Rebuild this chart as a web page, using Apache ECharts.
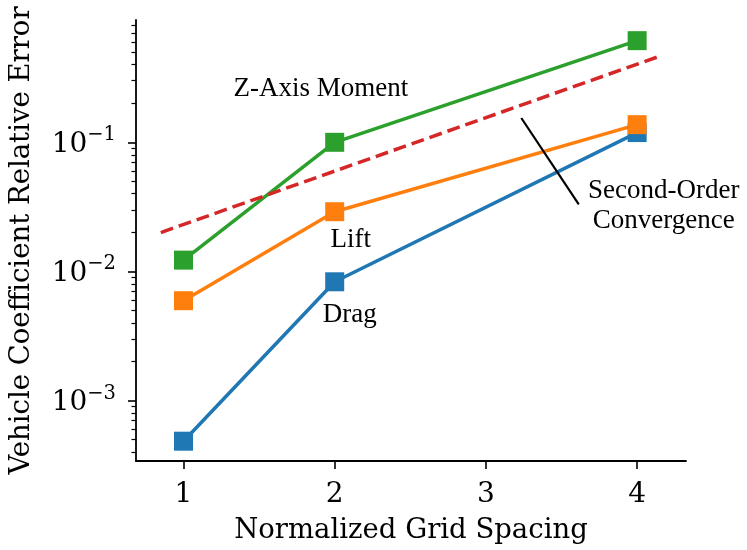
<!DOCTYPE html>
<html>
<head>
<meta charset="utf-8">
<script src="https://cdn.jsdelivr.net/npm/echarts@6/dist/echarts.min.js"></script>
<style>
  html, body { margin: 0; padding: 0; background: #ffffff; }
  #chart { width: 747px; height: 550px; }
</style>
</head>
<body>
<div id="chart"></div>
<script>
// ---- data ----
const gridSpacing = [1, 2, 4];
const drag = [4.84e-4, 8.31e-3, 0.119];
const lift = [5.93e-3, 0.029, 0.137];
const zMoment = [0.01223, 0.1, 0.613];
const refX = [0.85, 4.15];
const refY = [0.02, 0.465];
const pointerX = [3.234, 3.614];
const pointerY = [0.1543, 0.0331];
const xTicks = [1, 2, 3, 4];
const yTicks = [0.001, 0.01, 0.1];
const yMinorTicks = [4e-4, 5e-4, 6e-4, 7e-4, 8e-4, 9e-4,
  2e-3, 3e-3, 4e-3, 5e-3, 6e-3, 7e-3, 8e-3, 9e-3,
  2e-2, 3e-2, 4e-2, 5e-2, 6e-2, 7e-2, 8e-2, 9e-2,
  0.2, 0.3, 0.4, 0.5, 0.6, 0.7, 0.8];
const annotationText = ['Z-Axis Moment', 'Lift', 'Drag', 'Second-Order\nConvergence'];
const annotationX = [1.908, 2.106, 2.10, 4.176];
const annotationY = [0.26, 0.01746, 0.0046, 0.0322];

const X_MIN = 0.686, X_MAX = 4.323;
const Y_MIN = 3.4e-4, Y_MAX = 0.886;

const AX_FONT = 'DejaVu Serif';
const ANN_FONT = 'Liberation Serif';

function pairs(xs, ys) { return xs.map((x, i) => [x, ys[i]]); }

function dataSeries(name, ys, color) {
  return {
    name: name,
    type: 'line',
    data: pairs(gridSpacing, ys),
    xAxisIndex: 0, yAxisIndex: 0,
    symbol: 'rect',
    symbolSize: 19,
    showSymbol: true,
    lineStyle: { color: color, width: 3.5 },
    itemStyle: { color: color, borderColor: color, borderWidth: 0, opacity: 1 },
    emphasis: { disabled: true },
    z: 3
  };
}

const chart = echarts.init(document.getElementById('chart'), null, { renderer: 'canvas' });

const option = {
  animation: false,
  backgroundColor: '#ffffff',
  grid: { left: 135, top: 20, right: 61, bottom: 87, containLabel: false },
  xAxis: {
    type: 'value',
    min: X_MIN, max: X_MAX,
    name: 'Normalized Grid Spacing',
    nameLocation: 'middle',
    nameGap: 56,
    nameTextStyle: { fontFamily: AX_FONT, fontSize: 27.5, color: '#000' },
    splitLine: { show: false },
    axisLine: { show: true, onZero: false, lineStyle: { color: '#000', width: 1.8 } },
    axisTick: { show: true, inside: false, length: 8, lineStyle: { color: '#000', width: 1.6 }, customValues: xTicks },
    axisLabel: { fontFamily: AX_FONT, fontSize: 28, color: '#000', margin: 20, customValues: xTicks,
      formatter: v => String(v) }
  },
  yAxis: [{
    type: 'log',
    logBase: 10,
    min: Y_MIN, max: Y_MAX,
    name: 'Vehicle Coefficient Relative Error',
    nameLocation: 'middle',
    nameGap: 100,
    nameRotate: 90,
    nameTextStyle: { fontFamily: AX_FONT, fontSize: 27.5, color: '#000' },
    splitLine: { show: false },
    axisLine: { show: true, onZero: false, lineStyle: { color: '#000', width: 1.8 } },
    axisTick: { show: true, inside: false, length: 8, lineStyle: { color: '#000', width: 1.6 }, customValues: yTicks },
    axisLabel: {
      margin: 20,
      customValues: yTicks,
      formatter: function (v) {
        const e = Math.round(Math.log10(v));
        return '{b|10}{s|' + (e < 0 ? '\u2212' : '') + Math.abs(e) + '}';
      },
      rich: {
        b: { fontFamily: AX_FONT, fontSize: 28, color: '#000', padding: [5, 0, 0, 0] },
        s: { fontFamily: AX_FONT, fontSize: 19.5, color: '#000', padding: [0, 0, 14, 0] }
      }
    }
  }, {
    type: 'log',
    logBase: 10,
    min: Y_MIN, max: Y_MAX,
    position: 'left',
    offset: 0,
    splitLine: { show: false },
    axisLine: { show: false },
    axisTick: { show: true, inside: false, length: 4.5, lineStyle: { color: '#000', width: 1.2 }, customValues: yMinorTicks },
    axisLabel: { show: false }
  }],
  series: [
    dataSeries('Drag', drag, '#1f77b4'),
    dataSeries('Lift', lift, '#ff7f0e'),
    dataSeries('Z-Axis Moment', zMoment, '#2ca02c'),
    {
      name: 'Second-Order Convergence',
      type: 'line',
      data: pairs(refX, refY),
      xAxisIndex: 0, yAxisIndex: 0,
      symbol: 'none',
      lineStyle: { color: '#d62728', width: 3.5, type: [13, 6], cap: 'butt' },
      emphasis: { disabled: true },
      z: 4
    },
    {
      name: 'pointer',
      type: 'line',
      data: pairs(pointerX, pointerY),
      xAxisIndex: 0, yAxisIndex: 0,
      symbol: 'none',
      lineStyle: { color: '#000', width: 2.2 },
      emphasis: { disabled: true },
      z: 4
    },
    {
      name: 'annotations',
      type: 'scatter',
      data: annotationText.map((t, i) => [annotationX[i], annotationY[i], t]),
      xAxisIndex: 0, yAxisIndex: 0,
      symbolSize: 0,
      itemStyle: { opacity: 1 },
      label: {
        show: true,
        position: 'inside',
        formatter: p => p.data[2],
        fontFamily: ANN_FONT,
        fontSize: 27,
        lineHeight: 30,
        color: '#000',
        opacity: 1,
        textBorderWidth: 0,
        align: 'center',
        verticalAlign: 'middle'
      },
      emphasis: { disabled: true },
      z: 5
    }
  ]
};
chart.setOption(option);
</script>
</body>
</html>
